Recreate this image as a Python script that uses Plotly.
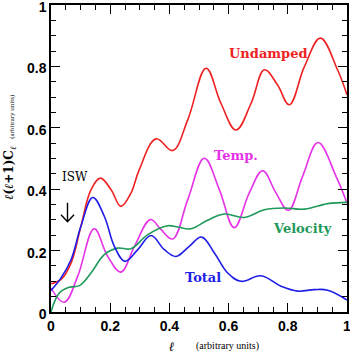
import plotly.graph_objects as go

# Undamped
und_x = [0.0, 0.034, 0.068, 0.101, 0.135, 0.167, 0.203, 0.236, 0.27, 0.298, 0.355, 0.411, 0.462, 0.524,
         0.574, 0.625, 0.676, 0.721, 0.765, 0.805, 0.856, 0.910, 0.968, 1.0]
und_y = [0.092, 0.106, 0.160, 0.279, 0.398, 0.436, 0.398, 0.344, 0.387, 0.463, 0.564, 0.526, 0.626, 0.794,
         0.680, 0.593, 0.680, 0.789, 0.740, 0.675, 0.799, 0.892, 0.789, 0.707]
# Temp.
tmp_x = [0.0, 0.045, 0.09, 0.146, 0.191, 0.236, 0.282, 0.336, 0.372, 0.411, 0.462, 0.518, 0.569, 0.619,
         0.67, 0.715, 0.76, 0.802, 0.85, 0.902, 0.963, 1.0]
tmp_y = [0.078, 0.032, 0.116, 0.271, 0.182, 0.130, 0.214, 0.301, 0.268, 0.238, 0.366, 0.501, 0.398, 0.275,
         0.388, 0.460, 0.388, 0.331, 0.442, 0.552, 0.442, 0.355]
# Velocity
vel_x = [0.0, 0.028, 0.062, 0.096, 0.135, 0.18, 0.225, 0.27, 0.327, 0.394, 0.428, 0.473, 0.529, 0.586,
         0.653, 0.721, 0.788, 0.856, 0.935, 1.0]
vel_y = [0.0, 0.062, 0.081, 0.086, 0.127, 0.187, 0.208, 0.206, 0.252, 0.281, 0.277, 0.271, 0.299, 0.319,
         0.308, 0.333, 0.339, 0.335, 0.353, 0.357]
# Total
tot_x = [0.0, 0.034, 0.068, 0.101, 0.141, 0.18, 0.214, 0.25, 0.293, 0.338, 0.383, 0.422, 0.467, 0.509,
         0.552, 0.597, 0.642, 0.709, 0.777, 0.833, 0.89, 0.935, 1.0]
tot_y = [0.070, 0.111, 0.171, 0.279, 0.373, 0.312, 0.214, 0.165, 0.203, 0.249, 0.203, 0.181, 0.214, 0.244,
         0.192, 0.127, 0.100, 0.118, 0.084, 0.068, 0.073, 0.071, 0.039]

tick_vals = [0, 0.2, 0.4, 0.6, 0.8, 1]
tick_text = ["0", "0.2", "0.4", "0.6", "0.8", "1"]

RED = "#ee2222"
MAG = "#e632e6"
GRN = "#1f9a5a"
BLU = "#1e1ee6"

fig = go.Figure()
for xs, ys, c in [(und_x, und_y, RED), (tmp_x, tmp_y, MAG), (vel_x, vel_y, GRN), (tot_x, tot_y, BLU)]:
    fig.add_trace(go.Scatter(x=xs, y=ys, mode="lines", line=dict(color=c, width=1.6, shape="spline", smoothing=1.1),
                             showlegend=False, hoverinfo="skip", cliponaxis=True))

lab_font = "DejaVu Serif"
ann = [
    dict(x=(268 - 51) / 296, y=(312.5 - 54) / 307.5, text="<b>Undamped</b>", color=RED, size=13),
    dict(x=(236 - 51) / 296, y=(312.5 - 156) / 307.5, text="<b>Temp.</b>", color=MAG, size=13),
    dict(x=(302 - 51) / 296, y=(312.5 - 229) / 307.5, text="<b>Velocity</b>", color=GRN, size=13),
    dict(x=(203 - 51) / 296, y=(312.5 - 278) / 307.5, text="<b>Total</b>", color=BLU, size=13),
    dict(x=(74.5 - 51) / 296, y=(312.5 - 177.5) / 307.5, text="ISW", color="black", size=12),
]
for a in ann:
    fig.add_annotation(x=a["x"], y=a["y"], xref="paper", yref="paper", text=a["text"], showarrow=False,
                       font=dict(family=lab_font, size=a["size"], color=a["color"]), xanchor="center", yanchor="middle")

# ISW arrow (thin shaft, open head)
def px(xp):
    return (xp - 51) / 296

def py(yp):
    return (312.5 - yp) / 307.5

fig.add_shape(type="path", xref="paper", yref="paper",
              path=f"M {px(67.5)} {py(203)} L {px(67.5)} {py(222)} M {px(61)} {py(215)} L {px(67.5)} {py(222)} L {px(74)} {py(215)}",
              line=dict(color="black", width=1.4))

# axis titles
fig.add_annotation(x=(172 - 51) / 296, y=(312.5 - 347) / 307.5, xref="paper", yref="paper",
                   text="<b><i>ℓ</i></b>", showarrow=False, font=dict(family="DejaVu Serif", size=13, color="black"),
                   xanchor="center", yanchor="middle")
fig.add_annotation(x=(227 - 51) / 296, y=(312.5 - 347) / 307.5, xref="paper", yref="paper",
                   text="(arbitrary units)", showarrow=False, font=dict(family="Liberation Serif", size=10, color="black"),
                   xanchor="center", yanchor="middle")
fig.add_annotation(x=(10 - 51) / 296, y=(312.5 - 173) / 307.5, xref="paper", yref="paper", textangle=-90,
                   text="<b><i>ℓ</i>(<i>ℓ</i>+1)C<sub><i>ℓ</i></sub></b>", showarrow=False,
                   font=dict(family="DejaVu Serif", size=12, color="black"), xanchor="center", yanchor="middle")
fig.add_annotation(x=(12 - 51) / 296, y=(312.5 - 117) / 307.5, xref="paper", yref="paper", textangle=-90,
                   text="(arbitrary units)", showarrow=False,
                   font=dict(family="Liberation Serif", size=7, color="black"), xanchor="center", yanchor="middle")

axis_common = dict(showline=True, linecolor="black", linewidth=1.5, mirror="ticks", ticks="inside",
                   ticklen=9, tickwidth=1.3, tickcolor="black", showgrid=False, zeroline=False,
                   tickmode="array", tickvals=tick_vals, ticktext=tick_text, ticklabeloverflow="allow",
                   automargin=False,
                   tickfont=dict(family="Liberation Sans", size=14, color="black", weight="bold"),
                   minor=dict(ticks="inside", ticklen=5, tickwidth=1.1, tickcolor="black",
                              tickmode="linear", tick0=0, dtick=0.05, showgrid=False))
fig.update_xaxes(range=[0, 1], **axis_common)
fig.update_yaxes(range=[0, 1], ticklabelshift=2, **axis_common)

fig.update_layout(width=350, height=355, margin=dict(l=51, r=3, t=5, b=43, autoexpand=False),
                  plot_bgcolor="white", paper_bgcolor="white")
fig.write_html("out.html")
